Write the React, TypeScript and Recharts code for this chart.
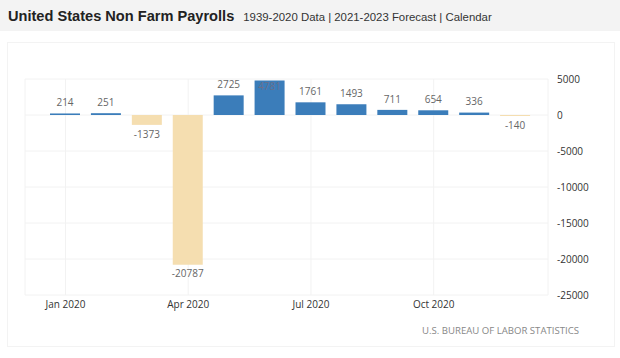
import { BarChart, Bar, XAxis, YAxis, CartesianGrid, LabelList, Cell } from "recharts";

const months = [
  "Jan 2020", "Feb 2020", "Mar 2020", "Apr 2020", "May 2020", "Jun 2020",
  "Jul 2020", "Aug 2020", "Sep 2020", "Oct 2020", "Nov 2020", "Dec 2020"
];
const payrolls = [214, 251, -1373, -20787, 2725, 4781, 1761, 1493, 711, 654, 336, -140];
const yTicks = [5000, 0, -5000, -10000, -15000, -20000, -25000];

const data = months.map((m, i) => ({ month: m, value: payrolls[i] }));

const PLOT_TOP = 79;

const renderLabel = (props: any) => {
  const { x, y, width, height, value } = props;
  const top = Math.min(y, y + height);
  const bottom = Math.max(y, y + height);
  const cx = x + width / 2;
  if (value >= 0) {
    // no room above the plot top: label sits inside the bar
    if (top - 10 < PLOT_TOP) {
      return (
        <text x={cx} y={top + 7} textAnchor="middle" dominantBaseline="middle" fontSize={10} fill="#6a6f8a">
          {value}
        </text>
      );
    }
    return (
      <text x={cx} y={top - 10} textAnchor="middle" dominantBaseline="middle" fontSize={10} fill="#666">
        {value}
      </text>
    );
  }
  return (
    <text x={cx} y={bottom + 10} textAnchor="middle" dominantBaseline="middle" fontSize={10} fill="#666">
      {value}
    </text>
  );
};

export default function App() {
  return (
    <div style={{ position: "absolute", left: 0, top: 0, width: 620, height: 358, background: "#fff", fontFamily: "'Open Sans', sans-serif" }}>
      <div style={{ position: "absolute", left: 0, top: 0, width: 620, height: 31, background: "#f3f3f3" }} />
      <div style={{ position: "absolute", left: 8, top: 7, fontFamily: "Arial, 'Liberation Sans', sans-serif", whiteSpace: "nowrap" }}>
        <span style={{ fontSize: 14.6, fontWeight: "bold", color: "#222" }}>United States Non Farm Payrolls</span>
        <span style={{ fontSize: 11.4, color: "#333", marginLeft: 9 }}>1939-2020 Data | 2021-2023 Forecast | Calendar</span>
      </div>
      <div style={{ position: "absolute", left: 7, top: 42, width: 606, height: 303, border: "1px solid #f3f3f3" }} />
      <div style={{ position: "absolute", left: 0, top: 0 }}>
        <BarChart
          width={620}
          height={358}
          data={data}
          margin={{ top: PLOT_TOP, right: 0, bottom: 33, left: 25 }}
        >
          <CartesianGrid stroke="#f2f2f2" />
          <XAxis
            dataKey="month"
            interval={2}
            tickLine={false}
            axisLine={false}
            tickSize={0}
            tickMargin={6}
            height={30}
            padding={{ left: 20, right: 12 }}
            tick={{ fontSize: 10, fill: "#333" }}
          />
          <YAxis
            orientation="right"
            domain={[-25000, 5000]}
            ticks={yTicks}
            interval={0}
            tickLine={false}
            axisLine={false}
            tickSize={0}
            tickMargin={9}
            width={72}
            tick={{ fontSize: 10, fill: "#333", textAnchor: "start" }}
          />
          <Bar dataKey="value" barSize={30} isAnimationActive={false}>
            {data.map((d, i) => (
              <Cell key={i} fill={d.value >= 0 ? "#3b7dba" : "#f5deb0"} />
            ))}
            <LabelList dataKey="value" content={renderLabel} />
          </Bar>
        </BarChart>
      </div>
      <div style={{ position: "absolute", left: 422, top: 324, fontSize: 9.6, color: "#888", whiteSpace: "nowrap" }}>
        U.S. BUREAU OF LABOR STATISTICS
      </div>
    </div>
  );
}
